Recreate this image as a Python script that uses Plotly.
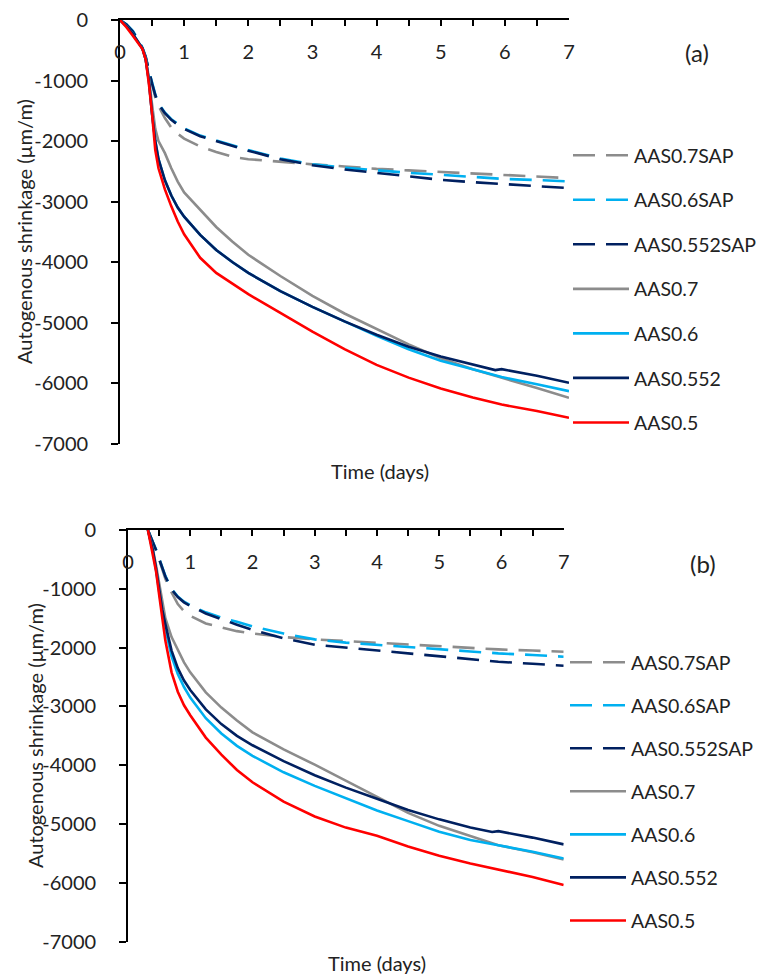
import plotly.graph_objects as go

# ---------------- data ----------------
series_names = ["AAS0.7SAP", "AAS0.6SAP", "AAS0.552SAP", "AAS0.7", "AAS0.6", "AAS0.552", "AAS0.5"]
series_colors = ["#8C8C8C", "#00B0F0", "#002060", "#8C8C8C", "#00B0F0", "#002060", "#FF0000"]
series_dashed = [True, True, True, False, False, False, False]

# panel (a)
time_a = [0, 0.1, 0.2, 0.3, 0.35, 0.4, 0.45, 0.5, 0.55, 0.6, 0.7, 0.8, 0.9, 1.0, 1.25, 1.5,
          1.75, 2.0, 2.5, 3.0, 3.5, 4.0, 4.5, 5.0, 5.5, 5.85, 5.95, 6.5, 7.0]
a_07sap = [0, -80, -200, -370, -470, -620, -850, -1080, -1280, -1420, -1620, -1780, -1880, -1960, -2090,
           -2180, -2260, -2300, -2345, -2385, -2420, -2460, -2485, -2513, -2535, -2550, -2558, -2585, -2613]
a_06sap = [0, -70, -180, -350, -460, -600, -830, -1040, -1230, -1380, -1530, -1640, -1720, -1790, -1910,
           -1990, -2070, -2150, -2290, -2385, -2440, -2486, -2525, -2558, -2590, -2615, -2624, -2645, -2668]
a_0552sap = [0, -75, -190, -360, -465, -610, -840, -1050, -1240, -1390, -1540, -1650, -1730, -1800, -1920,
             -2000, -2080, -2160, -2300, -2400, -2470, -2530, -2590, -2640, -2680, -2700, -2706, -2740, -2778]
a_07 = [0, -100, -230, -380, -470, -640, -950, -1400, -1800, -2000, -2200, -2450, -2670, -2850, -3130,
        -3420, -3660, -3880, -4230, -4560, -4850, -5110, -5360, -5590, -5770, -5880, -5910, -6080, -6243]
a_06 = [0, -100, -230, -380, -470, -650, -1000, -1550, -2000, -2300, -2650, -2900, -3100, -3250, -3550,
        -3800, -4000, -4180, -4480, -4740, -4980, -5220, -5440, -5630, -5770, -5870, -5900, -6020, -6134]
a_0552 = [0, -100, -230, -380, -470, -650, -1000, -1550, -2000, -2300, -2650, -2900, -3100, -3250, -3550,
          -3800, -4000, -4180, -4480, -4740, -4980, -5200, -5400, -5560, -5690, -5785, -5770, -5880, -5995]
a_05 = [0, -120, -260, -400, -480, -650, -1050, -1550, -2150, -2450, -2800, -3080, -3330, -3540, -3930,
        -4180, -4360, -4530, -4840, -5150, -5440, -5700, -5910, -6090, -6240, -6330, -6355, -6460, -6573]

# panel (b)
time_b = [0.32, 0.4, 0.45, 0.5, 0.55, 0.6, 0.7, 0.8, 0.9, 1.0, 1.25, 1.5, 1.75, 2.0, 2.5, 3.0,
          3.5, 4.0, 4.5, 5.0, 5.5, 5.85, 5.95, 6.5, 7.0]
b_07sap = [0, -200, -350, -500, -680, -830, -1060, -1260, -1380, -1460, -1590, -1660, -1720, -1760, -1820,
           -1860, -1890, -1916, -1945, -1973, -2000, -2020, -2030, -2050, -2069]
b_06sap = [0, -190, -330, -480, -640, -780, -1000, -1130, -1220, -1280, -1400, -1490, -1560, -1640, -1760,
           -1860, -1915, -1955, -1995, -2030, -2065, -2090, -2098, -2125, -2154]
b_0552sap = [0, -195, -340, -490, -650, -790, -1010, -1140, -1230, -1290, -1420, -1520, -1610, -1700, -1840,
             -1950, -2000, -2041, -2090, -2143, -2190, -2230, -2240, -2275, -2307]
b_07 = [0, -330, -600, -900, -1200, -1500, -1820, -2050, -2250, -2420, -2760, -3020, -3240, -3440, -3730,
        -3990, -4260, -4530, -4810, -5030, -5210, -5330, -5360, -5480, -5600]
b_06 = [0, -370, -680, -1050, -1400, -1680, -2150, -2450, -2670, -2850, -3200, -3460, -3670, -3840, -4120,
        -4350, -4560, -4770, -4950, -5130, -5270, -5350, -5360, -5470, -5584]
b_0552 = [0, -350, -650, -1000, -1350, -1600, -2050, -2350, -2560, -2720, -3050, -3300, -3500, -3660, -3930,
          -4170, -4380, -4570, -4760, -4920, -5060, -5135, -5120, -5230, -5345]
b_05 = [0, -400, -700, -1100, -1500, -1880, -2420, -2750, -2980, -3150, -3530, -3820, -4080, -4290, -4620,
        -4870, -5060, -5200, -5380, -5540, -5670, -5750, -5770, -5900, -6037]

x_ticks = [0, 1, 2, 3, 4, 5, 6, 7]
y_ticks = [0, -1000, -2000, -3000, -4000, -5000, -6000, -7000]

panel_a = [a_07sap, a_06sap, a_0552sap, a_07, a_06, a_0552, a_05]
panel_b = [b_07sap, b_06sap, b_0552sap, b_07, b_06, b_0552, b_05]

# ---------------- figure ----------------
W, H = 763, 977
FONT = "Lato, 'Open Sans', sans-serif"
TXT = "#222222"
DASH = "22px,11px"

fig = go.Figure()

for name, col, dashed, ys in zip(series_names, series_colors, series_dashed, panel_a):
    fig.add_trace(go.Scatter(
        x=time_a, y=ys, mode="lines", name=name,
        line=dict(color=col, width=2.6, dash=DASH if dashed else "solid"),
        xaxis="x", yaxis="y", legend="legend", legendgroup="a" + name,
    ))

for name, col, dashed, ys in zip(series_names, series_colors, series_dashed, panel_b):
    fig.add_trace(go.Scatter(
        x=time_b, y=ys, mode="lines", name=name,
        line=dict(color=col, width=2.6, dash=DASH if dashed else "solid"),
        xaxis="x2", yaxis="y2", legend="legend2", legendgroup="b" + name,
    ))


def px_x(p):
    return p / W


def px_y(p):
    return 1 - p / H


xcommon = dict(
    range=[0, 7], tickmode="array", tickvals=x_ticks, ticktext=[str(v) for v in x_ticks],
    side="top", ticks="inside", ticklen=6, tickwidth=1.6, tickcolor="black",
    ticklabelposition="inside", ticklabelstandoff=20, ticklabeloverflow="allow",
    showline=True, linecolor="black", linewidth=1.8,
    showgrid=False, zeroline=False, automargin=False,
    minor=dict(dtick=0.5, tick0=0, ticks="inside", ticklen=6, tickwidth=1.6, tickcolor="black", showgrid=False),
    tickfont=dict(family=FONT, size=20, color=TXT),
)
ycommon = dict(
    range=[-7000, 0], tickmode="array", tickvals=y_ticks, ticktext=[str(v) for v in y_ticks],
    ticks="outside", ticklen=7, tickwidth=1.6, tickcolor="black",
    showline=True, linecolor="black", linewidth=1.8,
    showgrid=False, zeroline=False, automargin=False,
    ticklabelstandoff=19, ticklabeloverflow="allow",
    tickfont=dict(family=FONT, size=20, color=TXT),
)

legcommon = dict(
    font=dict(family=FONT, size=19.5, color=TXT),
    bgcolor="rgba(0,0,0,0)", itemwidth=56, traceorder="grouped",
    xanchor="left", yanchor="top", itemclick=False, itemdoubleclick=False,
)


def label(text, x, y, size=20, angle=0):
    return dict(text=text, x=px_x(x), y=px_y(y), xref="paper", yref="paper",
                xanchor="center", yanchor="middle", showarrow=False, textangle=angle,
                font=dict(family=FONT, size=size, color=TXT))


fig.update_layout(
    template="none",
    width=W, height=H,
    margin=dict(l=0, r=0, t=0, b=0, autoexpand=False),
    paper_bgcolor="white", plot_bgcolor="white",
    font=dict(family=FONT, size=20, color=TXT),
    xaxis=dict(domain=[px_x(120), px_x(569)], anchor="y", **xcommon),
    yaxis=dict(domain=[px_y(443.6), px_y(20)], anchor="x", **ycommon),
    xaxis2=dict(domain=[px_x(128), px_x(563.7)], anchor="y2", **xcommon),
    yaxis2=dict(domain=[px_y(941.7), px_y(530)], anchor="x2", **ycommon),
    legend=dict(x=px_x(568), y=px_y(136), tracegroupgap=16.2, **legcommon),
    legend2=dict(x=px_x(565), y=px_y(643), tracegroupgap=14.7, **legcommon),
    annotations=[
        label("(a)", 697, 52, size=24),
        label("(b)", 703, 563, size=24),
        label("Time (days)", 380, 471),
        label("Time (days)", 377, 963),
        label("Autogenous shrinkage (µm/m)", 24, 232, angle=-90),
        label("Autogenous shrinkage (µm/m)", 35, 736, angle=-90),
    ],
)

fig.write_html(
    "out.html",
    config={"displayModeBar": False},
    post_script="document.body.style.margin='0px';document.body.style.overflow='hidden';",
)
